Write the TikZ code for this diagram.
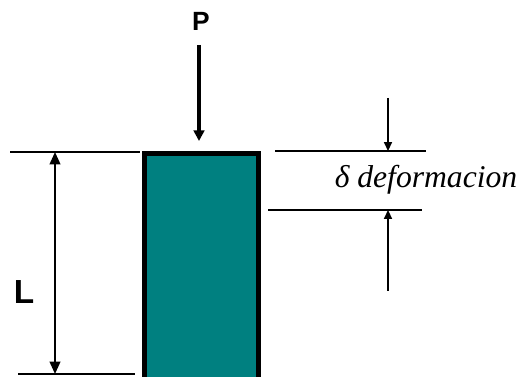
\documentclass[tikz,border=0pt]{standalone}
\usepackage{fontspec}
\setmainfont{Liberation Serif}
\newfontfamily\arialbold{Liberation Sans}[BoldFont={* Bold}]
\usetikzlibrary{arrows.meta,positioning}
\definecolor{barteal}{RGB}{0,128,128}

\begin{document}
\begin{tikzpicture}[x=0.02cm, y=-0.02cm,
  guide/.style={line width=1.1pt},
  dim/.style={line width=1.1pt, {Triangle[length=7pt,width=6pt]}-{Triangle[length=7pt,width=6pt]}},
  load/.style={line width=2.3pt, -{Triangle[length=6pt,width=6pt]}},
  gap/.style={line width=0.9pt, -{Triangle[length=5pt,width=4.5pt]}},
  lbl/.style={font=\arialbold\bfseries, inner sep=0pt}]
\useasboundingbox (0,0) rectangle (526,377);
\clip (0,0) rectangle (526,377);
% bar
\node[draw, line width=2.6pt, fill=barteal, inner sep=0pt,
  anchor=north west, minimum width=2.28cm, minimum height=4.6cm] (bar) at (142,151) {};
% load
\node[lbl, font=\arialbold\bfseries\fontsize{15pt}{17pt}\selectfont] (P) at (201,21) {P};
\coordinate (ptop) at (199,45);
\coordinate (pend) at (199,141);
\draw[load] (ptop) -- (pend);
% length
\coordinate (ltopA) at (10,152);
\coordinate (ltopB) at (140,152);
\coordinate (lbotA) at (18,374);
\coordinate (lbotB) at (135,374);
\draw[guide] (ltopA) -- (ltopB);
\draw[guide] (lbotA) -- (lbotB);
\coordinate (ldimA) at (55,152);
\coordinate (ldimB) at (55,374);
\draw[dim] (ldimA) -- (ldimB);
\node[lbl, font=\arialbold\bfseries\fontsize{19pt}{21pt}\selectfont] (L) at (24,292) {L};
% deformation
\coordinate (dtopA) at (275,151);
\coordinate (dtopB) at (426,151);
\coordinate (dbotA) at (268,210);
\coordinate (dbotB) at (422,210);
\draw[guide] (dtopA) -- (dtopB);
\draw[guide] (dbotA) -- (dbotB);
\coordinate (ddown) at (388,98);
\coordinate (dup) at (388,291);
\draw[gap] (ddown) -- (ddown |- dtopA);
\draw[gap] (dup) -- (dup |- dbotA);
\node[font=\fontsize{18pt}{20pt}\selectfont\itshape, inner sep=0pt] (delta) at (426,180) {δ deformacion};
\end{tikzpicture}
\end{document}
